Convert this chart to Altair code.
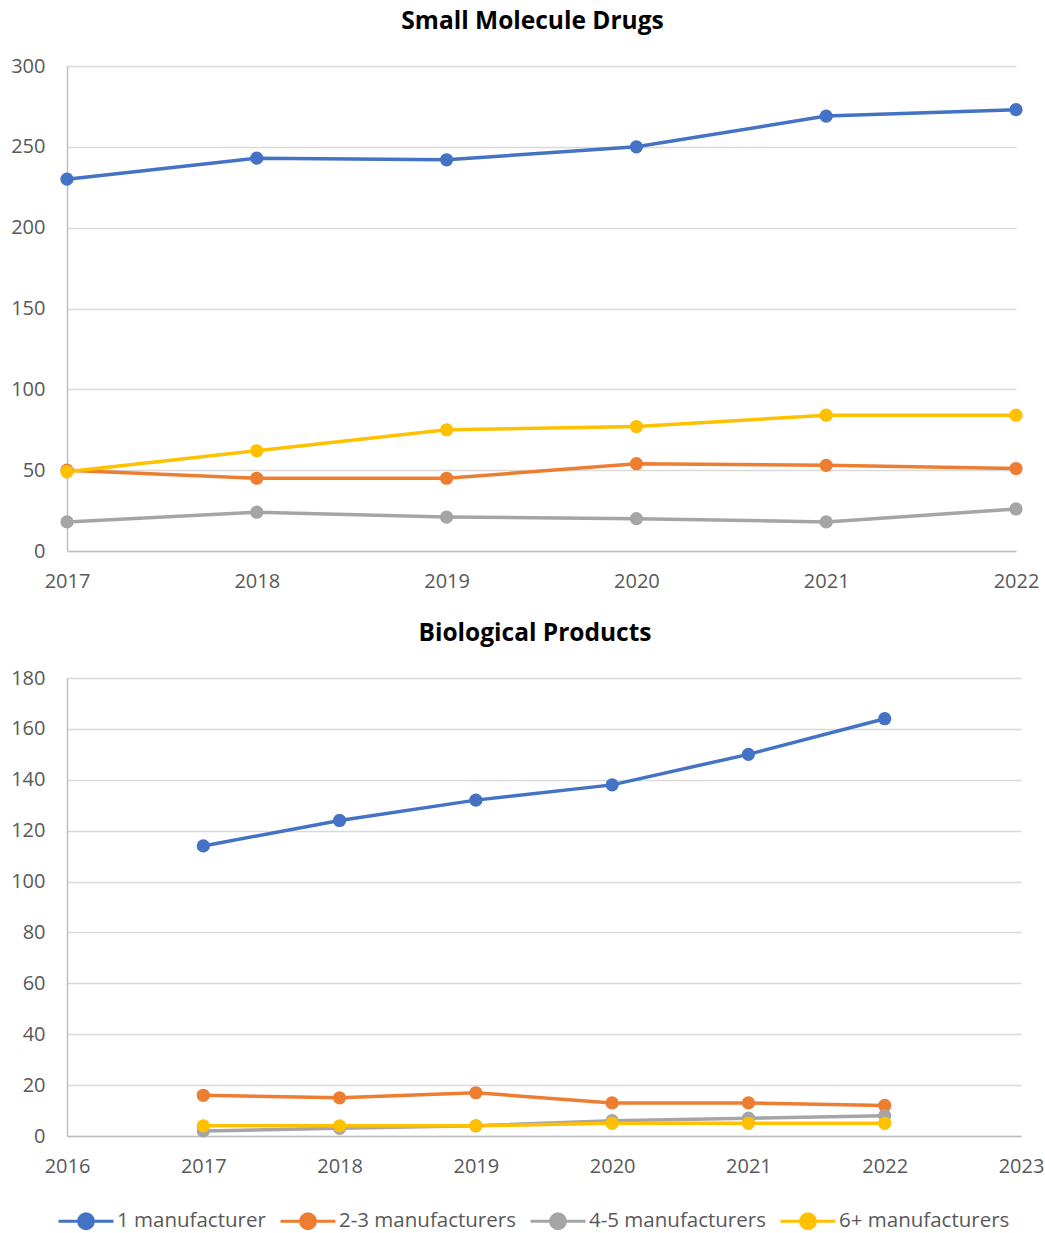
import altair as alt
import pandas as pd

series = ["1 manufacturer", "2-3 manufacturers", "4-5 manufacturers", "6+ manufacturers"]
colors = ["#4472C4", "#ED7D31", "#A5A5A5", "#FFC000"]
years = [2017, 2018, 2019, 2020, 2021, 2022]

small_1 = [230, 243, 242, 250, 269, 273]
small_23 = [50, 45, 45, 54, 53, 51]
small_45 = [18, 24, 21, 20, 18, 26]
small_6 = [49, 62, 75, 77, 84, 84]

bio_1 = [114, 124, 132, 138, 150, 164]
bio_23 = [16, 15, 17, 13, 13, 12]
bio_45 = [2, 3, 4, 6, 7, 8]
bio_6 = [4, 4, 4, 5, 5, 5]


def long(vals_list):
    rows = []
    for s, vals in zip(series, vals_list):
        for y, v in zip(years, vals):
            rows.append({"Year": y, "Series": s, "Value": v})
    return pd.DataFrame(rows)


df_small = long([small_1, small_23, small_45, small_6])
df_bio = long([bio_1, bio_23, bio_45, bio_6])

FONT = "Open Sans"
LABEL = "#595959"

legend_path = "M-1,0 L1,0 M-0.27,0 A0.27,0.27 0 1,1 0.27,0 A0.27,0.27 0 1,1 -0.27,0 Z"

color = alt.Color(
    "Series:N",
    scale=alt.Scale(domain=series, range=colors),
    legend=alt.Legend(
        title=None, orient="none", direction="horizontal", legendX=-10, legendY=1126,
        symbolType=legend_path, symbolSize=3025, symbolStrokeWidth=3,
        labelFontSize=20.5, labelColor=LABEL, labelFont=FONT, labelLimit=0,
        columnPadding=8, symbolOffset=0, labelOffset=2,
    ),
)


def panel(df, title, xdom, ydom, ystep, w, h):
    x = alt.X("Year:Q", scale=alt.Scale(domain=xdom, nice=False, zero=False),
              axis=alt.Axis(title=None, format="d", values=list(range(xdom[0], xdom[1] + 1)),
                            grid=False, ticks=False, labelPadding=20, domainColor="#BFBFBF",
                            domainWidth=1.5, labelFlush=False))
    y = alt.Y("Value:Q", scale=alt.Scale(domain=ydom, nice=False),
              axis=alt.Axis(title=None, values=list(range(ydom[0], ydom[1] + 1, ystep)),
                            ticks=False, labelPadding=22, domainColor="#BFBFBF",
                            domainWidth=1.5, gridColor="#D9D9D9", gridWidth=1.5))
    base = alt.Chart(df).encode(x=x, y=y, color=color, detail="Series:N")
    line = base.mark_line(strokeWidth=3.5)
    pts = base.mark_point(filled=True, size=175, opacity=1)
    return alt.layer(line, pts).properties(
        width=w, height=h,
        title=alt.TitleParams(title, fontSize=24.5, fontWeight="bold", font=FONT,
                              color="#000000", anchor="middle", offset=22, dx=-9),
    )


top = panel(df_small, "Small Molecule Drugs", [2017, 2022], [0, 300], 50, 949, 485)
bottom = panel(df_bio, "Biological Products", [2016, 2023], [0, 180], 20, 954, 458)

chart = alt.vconcat(top, bottom, spacing=29).properties(
    padding={"left": 10, "top": 8, "right": 0, "bottom": 0}
).configure_axis(
    labelFontSize=20, labelColor=LABEL, labelFont=FONT,
).configure_view(stroke=None).configure_legend(
    labelFont=FONT
)

chart.save("out.html", embed_options={"renderer": "svg", "actions": False})
